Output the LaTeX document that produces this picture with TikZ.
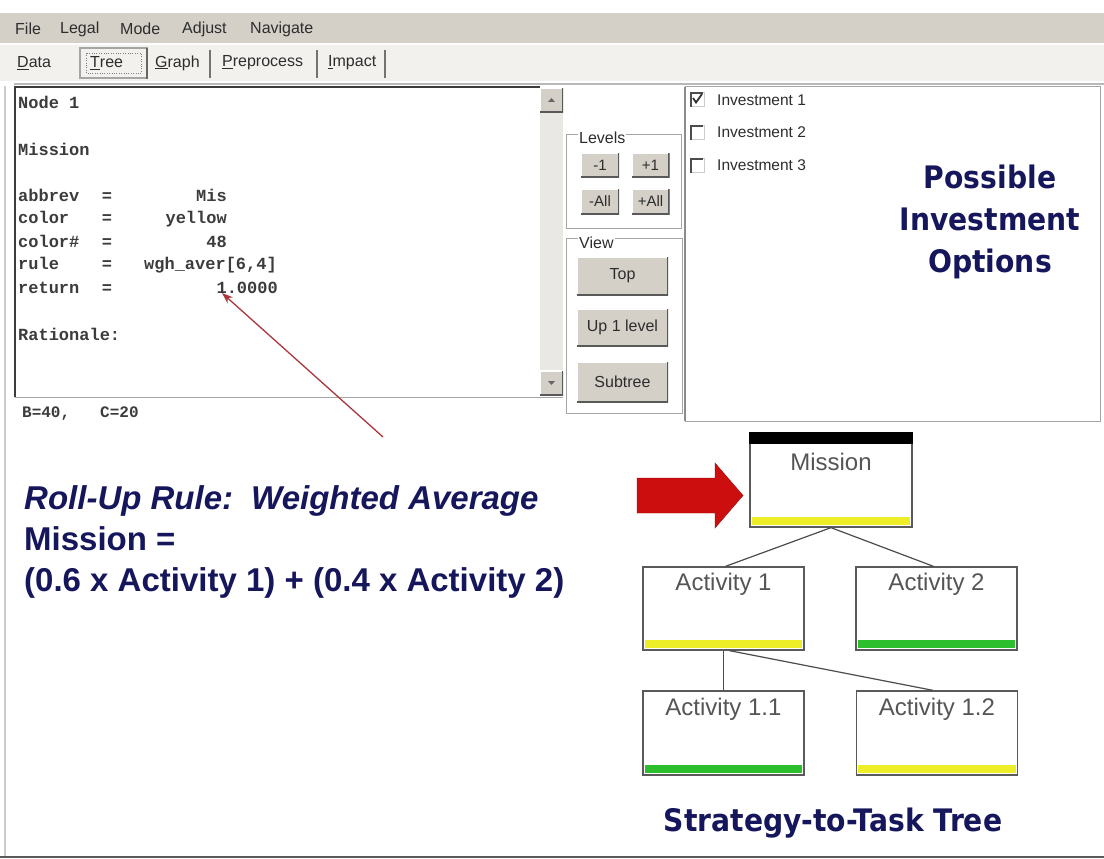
\documentclass[tikz,border=0pt]{standalone}
\usepackage{fontspec}
\setmainfont{Liberation Sans}
\setmonofont{Liberation Mono}
\newfontfamily\headfont{DejaVu Sans}
\usetikzlibrary{arrows.meta}

\definecolor{navy}{RGB}{22,22,92}
\definecolor{winbg}{RGB}{212,208,200}
\definecolor{tabbg}{RGB}{242,241,238}
\definecolor{frameline}{RGB}{165,165,165}
\definecolor{darkframe}{RGB}{60,60,60}
\definecolor{monotext}{RGB}{60,60,60}
\definecolor{uitext}{RGB}{45,45,45}
\definecolor{barY}{RGB}{238,238,40}
\definecolor{barG}{RGB}{45,190,45}
\definecolor{arrowred}{RGB}{205,14,14}
\definecolor{pointer}{RGB}{170,55,60}
\definecolor{boxtext}{RGB}{85,85,85}
\definecolor{boxline}{RGB}{90,90,90}
\definecolor{scrollbg}{RGB}{234,232,228}

\newcommand\fsz[1]{\fontsize{#1}{#1}\selectfont}
\newcommand\levelbar[2]{\fill[#2] ([xshift=2.5pt,yshift=2.5pt]#1.south west) rectangle ([xshift=-2.5pt,yshift=10.5pt]#1.south east);}
\newcommand\sunken[1]{\draw[black!70, line width=2pt] ([xshift=1pt,yshift=-1pt]#1.south west) -- ([xshift=1pt,yshift=-1pt]#1.north west) -- ([xshift=-1pt,yshift=-1pt]#1.north east);}

\begin{document}
\begin{tikzpicture}[x=1pt,y=-1pt,
  txt/.style={inner sep=0pt, anchor=west},
  ui/.style={txt, font=\fsz{16}, text=uitext},
  mono/.style={inner sep=0pt, anchor=base west, font=\ttfamily\bfseries\fsz{17}, text=monotext},
  winbutton/.style={fill=winbg, inner sep=0pt, font=\fsz{15}, text=uitext,
    path picture={
      \draw[white, line width=2pt] (path picture bounding box.south west) -- (path picture bounding box.north west) -- (path picture bounding box.north east);
      \draw[black!65, line width=3pt] (path picture bounding box.south west) -- (path picture bounding box.south east) -- (path picture bounding box.north east);}},
  checkbox/.style={draw=gray!40, fill=white, minimum size=14pt, inner sep=0pt},
  grouplabel/.style={txt, fill=white, inner xsep=1pt, font=\fsz{16}, text=uitext},
  rolltext/.style={inner sep=0pt, anchor=base west, font=\bfseries\fsz{33}, text=navy},
  headline/.style={inner sep=0pt, font=\headfont\bfseries\fsz{31}, text=navy, xscale=0.91, transform shape},
  treebox/.style={draw=boxline, line width=1.3pt, fill=white, minimum width=161pt, minimum height=83pt, inner sep=0pt},
  boxlabel/.style={inner sep=0pt, font=\fsz{24}, text=boxtext},
  link/.style={draw=black!70, line width=1.2pt}
]
\useasboundingbox (0,0) rectangle (1104,859);
\fill[white] (0,0) rectangle (1104,859);

% menu bar
\fill[winbg] (0,13) rectangle (1104,43);
\node[ui] (mfile) at (15,29) {File};
\node[ui] (mlegal) at (60,29) {Legal};
\node[ui] (mmode) at (120,29) {Mode};
\node[ui] (madjust) at (182,29) {Adjust};
\node[ui] (mnav) at (250,29) {Navigate};

% tab strip
\fill[tabbg] (0,45) rectangle (1104,81);
\draw[frameline, line width=1.5pt] (80,48) rectangle (147,78);
\draw[black!60, line width=2pt] (147,48) -- (147,79);
\draw[black!50, dotted] (86,53) rectangle (141,73);
\draw[black!55, line width=1.5pt] (210,50) -- (210,78);
\draw[black!55, line width=1.5pt] (317,50) -- (317,78);
\draw[black!55, line width=1.5pt] (385,50) -- (385,78);
\node[ui] (tdata) at (17,63) {\underline{D}ata};
\node[ui] (ttree) at (90,63) {\underline{T}ree};
\node[ui] (tgraph) at (155,63) {\underline{G}raph};
\node[ui] (tprep) at (222,63) {\underline{P}reprocess};
\node[ui] (timpact) at (328,63) {\underline{I}mpact};
\draw[gray!55, line width=2pt] (14,84) -- (1104,84);

% node detail panel
\fill[white] (15,87) rectangle (563,397);
\draw[darkframe, line width=2pt] (15,397) -- (15,87) -- (540,87);
\draw[frameline, line width=1pt] (15,397) -- (563,397);
\fill[scrollbg] (540,87) rectangle (563,396);
\node[winbutton, minimum width=23pt, minimum height=25pt] (sup) at (551.5,100.5) {};
\node[winbutton, minimum width=23pt, minimum height=25pt] (sdown) at (551.5,383) {};
\fill[black!60] (548,102) -- (555,102) -- (551.5,98) -- cycle;
\fill[black!60] (548,381) -- (555,381) -- (551.5,385) -- cycle;

\node[mono] (hnode) at (18,108) {Node 1};
\node[mono] (hmis) at (18,155) {Mission};
\node[mono] (kabbrev) at (18,201) {abbrev};
\node[mono] (kcolor) at (18,223) {color};
\node[mono] (kcnum) at (18,247) {color\#};
\node[mono] (krule) at (18,269) {rule};
\node[mono] (kret) at (18,293) {return};
\foreach \yy/\nm in {201/eqa,223/eqb,247/eqc,269/eqd,293/eqe}
  \node[mono, anchor=base] (\nm) at (107,\yy) {=};
\node[mono, anchor=base east] (vabbrev) at (227,201) {Mis};
\node[mono, anchor=base east] (vcolor) at (227,223) {yellow};
\node[mono, anchor=base east] (vcnum) at (227,247) {48};
\node[mono, anchor=base east] (vrule) at (277,269) {wgh\_aver[6,4]};
\node[mono, anchor=base east] (vret) at (278,293) {1.0000};
\node[mono] (hrat) at (18,340) {Rationale:};
\node[mono, font=\ttfamily\bfseries\fsz{16}] (sb) at (22,417) {B=40,};
\node[mono, font=\ttfamily\bfseries\fsz{16}] (sc) at (100,417) {C=20};

% pointer to the return value
\coordinate (ptrtail) at (383,437);
\coordinate (ptrtip) at (222,293);
\draw[pointer, line width=1.3pt, -{Stealth[length=11pt,width=8pt]}] (ptrtail) -- (ptrtip);

% level controls
\draw[frameline] (566,134) rectangle (681,228);
\node[grouplabel] (glevels) at (578,138) {Levels};
\node[winbutton, minimum width=38pt, minimum height=25pt] (bm1) at (600,165) {-1};
\node[winbutton, minimum width=38pt, minimum height=25pt] (bp1) at (650.5,165) {+1};
\node[winbutton, minimum width=38pt, minimum height=26pt] (bmall) at (600,201.5) {-All};
\node[winbutton, minimum width=38pt, minimum height=26pt] (bpall) at (650.5,201.5) {+All};

% view controls
\draw[frameline] (566,238) rectangle (682,413);
\node[grouplabel] (gview) at (578,243) {View};
\node[winbutton, minimum width=91pt, minimum height=38pt, font=\fsz{16}] (btop) at (622.5,276) {Top};
\node[winbutton, minimum width=91pt, minimum height=38pt, font=\fsz{16}] (bup) at (622.5,327.5) {Up 1 level};
\node[winbutton, minimum width=91pt, minimum height=40pt, font=\fsz{16}] (bsub) at (622.5,382) {Subtree};

% investment list
\draw[frameline, line width=1pt] (685,87) rectangle (1100,421);
\draw[black!45, line width=1.5pt] (685,87) -- (685,421);
\node[checkbox] (cb1) at (697,99) {};
\node[checkbox] (cb2) at (697,132) {};
\node[checkbox] (cb3) at (697,165) {};
\sunken{cb1}
\sunken{cb2}
\sunken{cb3}
\draw[black!80, line width=1.8pt] (693,98) -- (696,102.5) -- (702,94);
\node[ui, font=\fsz{15.5}] (inv1) at (717,100) {Investment 1};
\node[ui, font=\fsz{15.5}] (inv2) at (717,132) {Investment 2};
\node[ui, font=\fsz{15.5}] (inv3) at (717,165) {Investment 3};
\node[headline, align=center, font=\headfont\bfseries\fontsize{31}{42}\selectfont] (opts) at (990,222) {Possible\\Investment\\Options};

% roll-up rule
\node[rolltext, font=\bfseries\itshape\fsz{33}] (rule) at (24,509) {Roll-Up Rule:\hspace{18pt}Weighted Average};
\node[rolltext] (eqlhs) at (24,550) {Mission =};
\node[rolltext] (eqrhs) at (24,591) {(0.6 x Activity 1) + (0.4 x Activity 2)};

% strategy-to-task tree
\node[treebox, minimum width=162pt, minimum height=94pt] (mis) at (831,480) {};
\fill[black] (mis.north west) rectangle ([yshift=-12pt]mis.north east);
\node[treebox] (a1) at (723.5,608.5) {};
\node[treebox] (a2) at (936.5,608.5) {};
\node[treebox, minimum height=84pt] (a11) at (723.5,733) {};
\node[treebox, minimum height=84pt] (a12) at (937,733) {};
\levelbar{mis}{barY}
\levelbar{a1}{barY}
\levelbar{a2}{barG}
\levelbar{a11}{barG}
\levelbar{a12}{barY}
\node[boxlabel] (lmis) at ([yshift=-30pt]mis.north) {Mission};
\node[boxlabel] (la1) at ([yshift=-18pt]a1.north) {Activity 1};
\node[boxlabel] (la2) at ([yshift=-18pt]a2.north) {Activity 2};
\node[boxlabel] (la11) at ([yshift=-19pt]a11.north) {Activity 1.1};
\node[boxlabel] (la12) at ([yshift=-19pt]a12.north) {Activity 1.2};

\draw[link] (mis.south) -- ([xshift=2pt]a1.north);
\draw[link] (mis.south) -- ([xshift=-3pt]a2.north);
\draw[link] (a1.south) -- (a11.north);
\draw[link] ([xshift=6pt]a1.south) -- ([xshift=-4pt]a12.north);

% pointer to the root
\fill[arrowred, draw=arrowred!75!black] (637,478) -- (715,478) -- (715,463) -- (743,495.5) -- (715,528) -- (715,513) -- (637,513) -- cycle;

\node[headline] (ttitle) at (833,823) {Strategy-to-Task Tree};

% window edges
\draw[gray!40, line width=1.5pt] (5,86) -- (5,856);
\draw[gray!70!black, line width=2pt] (0,857) -- (1104,857);
\end{tikzpicture}
\end{document}
